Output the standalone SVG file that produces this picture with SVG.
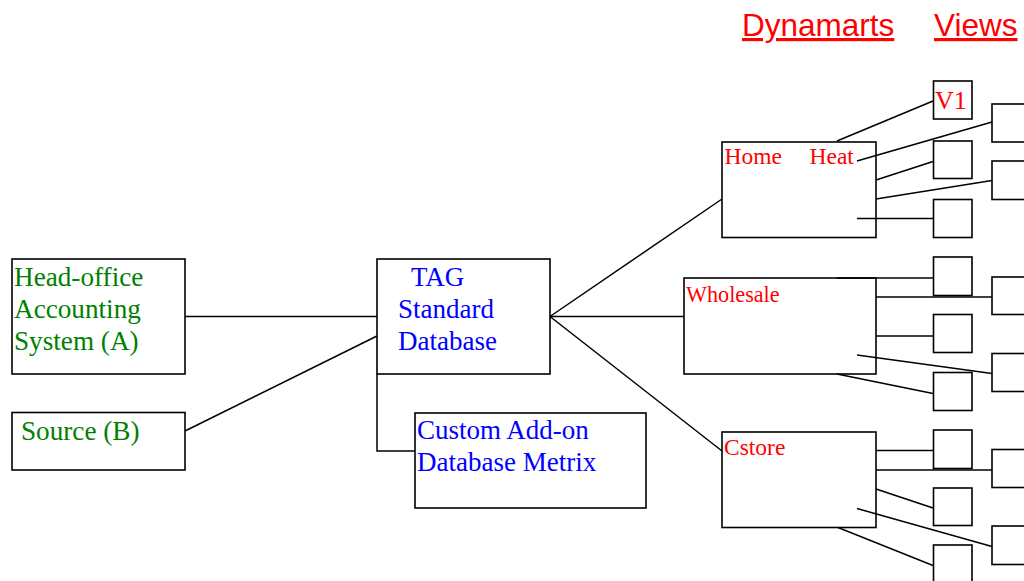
<svg xmlns="http://www.w3.org/2000/svg" width="1024" height="581" viewBox="0 0 1024 581">
  <style>
    .box { fill: none; stroke: #000000; stroke-width: 1.6; }
    .link { fill: none; stroke: #000000; stroke-width: 1.5; }
    .serif { font-family: "Liberation Serif", "Times New Roman", serif; }
    .green { fill: #008000; font-size: 27.2px; }
    .blue { fill: #0000ff; font-size: 27px; }
    .red { fill: #ff0000; font-size: 23.5px; }
    .red.small { font-size: 22.2px; }
    .head { font-family: "Liberation Sans", Arial, sans-serif; font-size: 31.5px; fill: #ff0000; text-decoration: underline; }
  </style>
  <rect width="1024" height="581" fill="#ffffff"/>

  <!-- column headings -->
  <g id="headings">
    <text class="head" x="742" y="36">Dynamarts</text>
    <text class="head" x="934" y="36">Views</text>
  </g>

  <!-- connectors -->
  <g id="connectors">
    <!-- sources into TAG -->
    <line class="link" x1="185" y1="316.5" x2="377" y2="316.5"/>
    <line class="link" x1="185" y1="431" x2="377" y2="336"/>
    <polyline class="link" points="377,374 377,451 415,451"/>
    <!-- TAG out to dynamarts -->
    <line class="link" x1="550" y1="316.5" x2="722" y2="199"/>
    <line class="link" x1="550" y1="316.5" x2="684" y2="316.5"/>
    <line class="link" x1="550" y1="316.5" x2="722" y2="451"/>
    <!-- Home Heat views -->
    <line class="link" x1="837" y1="141" x2="933" y2="101"/>
    <line class="link" x1="857" y1="161" x2="992" y2="122"/>
    <line class="link" x1="876" y1="180" x2="933" y2="161.5"/>
    <line class="link" x1="876" y1="199" x2="992" y2="180.5"/>
    <line class="link" x1="857" y1="218.5" x2="933" y2="218.5"/>
    <!-- Wholesale views -->
    <line class="link" x1="837" y1="278" x2="933" y2="278"/>
    <line class="link" x1="876" y1="297" x2="992" y2="297"/>
    <line class="link" x1="876" y1="336" x2="933" y2="336"/>
    <line class="link" x1="857" y1="355" x2="992" y2="373.5"/>
    <line class="link" x1="837" y1="374" x2="933" y2="393.5"/>
    <!-- Cstore views -->
    <line class="link" x1="876" y1="450.5" x2="933" y2="450.5"/>
    <line class="link" x1="876" y1="470" x2="992" y2="470"/>
    <line class="link" x1="876" y1="489" x2="933" y2="508"/>
    <line class="link" x1="857" y1="508.5" x2="992" y2="546.5"/>
    <line class="link" x1="838" y1="527.5" x2="933" y2="565.5"/>
  </g>

  <!-- source systems -->
  <g id="head-office">
    <rect class="box" x="12" y="259" width="173" height="115"/>
    <text class="serif green" x="14" y="286">Head-office</text>
    <text class="serif green" x="14" y="318">Accounting</text>
    <text class="serif green" x="14" y="350">System (A)</text>
  </g>
  <g id="source-b">
    <rect class="box" x="12" y="412.5" width="173" height="57.5"/>
    <text class="serif green" x="21" y="440">Source (B)</text>
  </g>

  <!-- databases -->
  <g id="tag-db">
    <rect class="box" x="377" y="259" width="173" height="115"/>
    <text class="serif blue" x="411" y="286">TAG</text>
    <text class="serif blue" x="398" y="318">Standard</text>
    <text class="serif blue" x="398" y="350">Database</text>
  </g>
  <g id="custom-db">
    <rect class="box" x="415" y="413" width="231" height="95"/>
    <text class="serif blue" x="417" y="439">Custom Add-on</text>
    <text class="serif blue" x="417" y="471">Database Metrix</text>
  </g>

  <!-- dynamarts -->
  <g id="home-heat">
    <rect class="box" x="722" y="142" width="154" height="95.5"/>
    <text class="serif red" x="724.5" y="164">Home</text>
    <text class="serif red" x="809.5" y="164">Heat</text>
  </g>
  <g id="wholesale">
    <rect class="box" x="684" y="278" width="192" height="96"/>
    <text class="serif red small" x="686" y="302">Wholesale</text>
  </g>
  <g id="cstore">
    <rect class="box" x="722" y="432" width="154" height="95.5"/>
    <text class="serif red" x="724" y="455">Cstore</text>
  </g>

  <!-- views, first column -->
  <g id="view-v1">
    <rect class="box" x="933.5" y="81" width="38.5" height="38"/>
    <text class="serif" x="935" y="108.5" font-size="26" fill="#ff0000">V1</text>
  </g>
  <g id="view-a2"><rect class="box" x="933.5" y="141" width="38.5" height="37.5"/></g>
  <g id="view-a3"><rect class="box" x="933.5" y="199.5" width="38.5" height="38"/></g>
  <g id="view-a4"><rect class="box" x="933.5" y="257" width="38.5" height="38.5"/></g>
  <g id="view-a5"><rect class="box" x="933.5" y="314.5" width="38.5" height="38"/></g>
  <g id="view-a6"><rect class="box" x="933.5" y="372.5" width="38.5" height="38"/></g>
  <g id="view-a7"><rect class="box" x="933.5" y="430" width="38.5" height="38.5"/></g>
  <g id="view-a8"><rect class="box" x="933.5" y="488" width="38.5" height="37.5"/></g>
  <g id="view-a9"><rect class="box" x="933.5" y="545" width="38.5" height="40"/></g>

  <!-- views, second column -->
  <g id="view-b1"><rect class="box" x="992" y="104" width="40" height="38"/></g>
  <g id="view-b2"><rect class="box" x="992" y="161" width="40" height="38.5"/></g>
  <g id="view-b3"><rect class="box" x="992" y="277" width="40" height="37.5"/></g>
  <g id="view-b4"><rect class="box" x="992" y="353.5" width="40" height="38"/></g>
  <g id="view-b5"><rect class="box" x="992" y="449.5" width="40" height="38"/></g>
  <g id="view-b6"><rect class="box" x="992" y="526" width="40" height="38.5"/></g>
</svg>
